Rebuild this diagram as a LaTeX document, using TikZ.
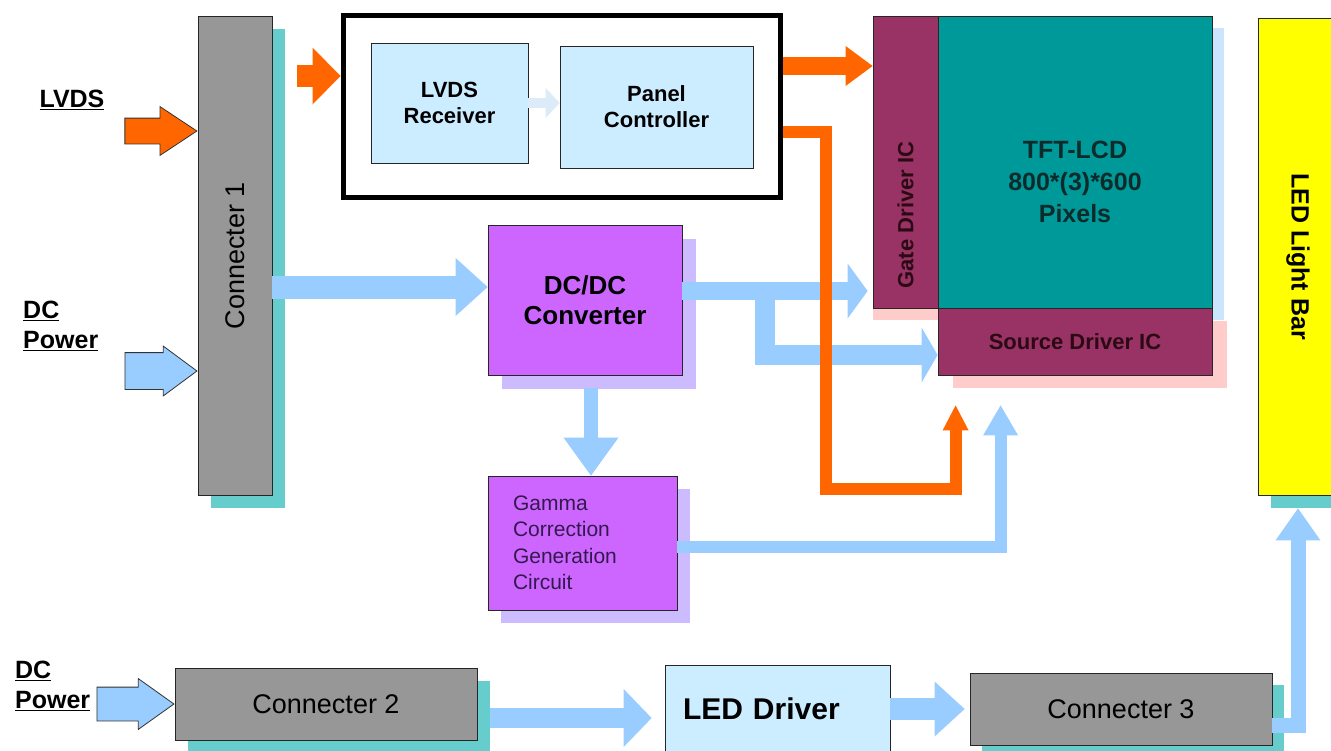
\documentclass[tikz,border=0pt]{standalone}
\usepackage{fontspec}
\setmainfont{Liberation Sans}
\usepackage{xcolor}
\usepackage{tikz}
\usetikzlibrary{shapes,arrows.meta,positioning,calc,shadows}

\definecolor{conngray}{HTML}{979797}
\definecolor{tealshade}{HTML}{66CCCC}
\definecolor{iceblue}{HTML}{CCECFF}
\definecolor{sigorange}{HTML}{FF6600}
\definecolor{pwrblue}{HTML}{99CCFF}
\definecolor{faintblue}{HTML}{DCEBF7}
\definecolor{violetbox}{HTML}{CC66FF}
\definecolor{lavshade}{HTML}{CCBBFF}
\definecolor{icmaroon}{HTML}{993366}
\definecolor{lcdteal}{HTML}{009999}
\definecolor{pinkshade}{HTML}{FFCCCC}
\definecolor{lcdshade}{HTML}{CCE5FF}
\definecolor{barfill}{HTML}{FFFF00}
\definecolor{ictxt}{HTML}{2B0A14}
\definecolor{lcdtxt}{HTML}{0D2B2B}
\definecolor{gammatxt}{HTML}{33194D}

\begin{document}
\begin{tikzpicture}[x=1pt, y=-1pt,
  box/.style={draw=black!85, line width=0.8pt, inner sep=0pt, align=center},
  tshadow/.style={drop shadow={shadow xshift=#1, shadow yshift=-#1, fill=tealshade, opacity=1}},
  lshadow/.style={drop shadow={shadow xshift=#1, shadow yshift=-#1, fill=lavshade, opacity=1}},
  conn/.style={box, fill=conngray, font=\fontsize{27}{32}\selectfont},
  rxbox/.style={box, fill=iceblue, font=\bfseries\fontsize{22}{26}\selectfont},
  purplebox/.style={box, fill=violetbox},
  icbox/.style={box, fill=icmaroon},
  ictext/.style={text=ictxt, font=\bfseries\fontsize{22}{26}\selectfont},
  lcdtext/.style={text=lcdtxt, align=center, font=\bfseries\fontsize{25}{32}\selectfont},
  inlabel/.style={font=\bfseries\fontsize{25}{30}\selectfont, inner sep=0pt, align=left},
  inarrow/.style={single arrow, draw=black!80, line width=0.8pt, inner xsep=0pt, anchor=tip, single arrow tip angle=#1},
  fat/.style 2 args={-{Triangle[length=#1, width=#2, line width=0pt]}},
  sig/.style={draw=sigorange},
  pwr/.style={draw=pwrblue},
]
\useasboundingbox[fill=white] (0,0) rectangle (1331,750);

\node[conn, tshadow=13pt, minimum width=74pt, minimum height=479pt] (conn1) at (235,255.5) {\rotatebox{90}{Connecter 1}};
\node[draw, line width=5pt, minimum width=437pt, minimum height=182pt] (ctrl) at (561.5,106) {};
\node[rxbox, minimum width=157pt, minimum height=120pt] (lvdsrx) at (449.5,103) {LVDS\\Receiver};
\node[rxbox, minimum width=193pt, minimum height=122pt] (panel) at (656.5,107) {Panel\\Controller};
\node[purplebox, lshadow=14pt, minimum width=194pt, minimum height=150pt, font=\bfseries\fontsize{26}{30}\selectfont] (dcdc) at (585,300) {DC/DC\\Converter};
\node[purplebox, lshadow=13pt, minimum width=189pt, minimum height=134pt, text width=139pt, inner xsep=25pt, align=left, text=gammatxt, font=\fontsize{21}{26.5}\selectfont] (gamma) at (582.5,543) {Gamma\\Correction\\Generation\\Circuit};

\node[icbox, minimum width=65pt, minimum height=292pt, drop shadow={shadow xshift=0pt, shadow yshift=-12pt, fill=pinkshade, opacity=1},
  label={[ictext, yshift=-53pt]center:\rotatebox{90}{Gate Driver IC}}] (gate) at (905.5,162) {};
\node[box, fill=lcdteal, minimum width=274pt, minimum height=292pt, drop shadow={shadow xshift=12pt, shadow yshift=-12pt, fill=lcdshade, opacity=1},
  label={[lcdtext, yshift=-20pt]center:{TFT-LCD\\800*(3)*600\\Pixels}}] (lcd) at (1075,162) {};
\node[icbox, ictext, minimum width=274pt, minimum height=67pt, drop shadow={shadow xshift=15pt, shadow yshift=-13pt, fill=pinkshade, opacity=1}] (source) at (1075,341.5) {Source Driver IC};
\node[box, fill=barfill, tshadow=13pt, minimum width=80pt, minimum height=477pt, font=\bfseries\fontsize{25}{30}\selectfont] (bar) at (1298,256.5) {\rotatebox{-90}{LED Light Bar}};

\node[conn, tshadow=13pt, minimum width=302pt, minimum height=72pt] (conn2) at (326,704) {Connecter 2};
\node[box, fill=iceblue, minimum width=225pt, minimum height=87pt, text width=189pt, inner xsep=18pt, align=left, font=\bfseries\fontsize{30}{36}\selectfont] (leddrv) at (777.5,708.5) {LED Driver};
\node[conn, tshadow=12pt, minimum width=302pt, minimum height=72pt] (conn3) at (1121,709) {Connecter 3};

\node[inarrow=67, fill=sigorange, minimum height=72pt, inner ysep=12.5pt, single arrow head extend=11.5pt] (lvdsin) at ([yshift=124.5pt]conn1.west) {};
\node[inarrow=73, fill=pwrblue, minimum height=72pt, inner ysep=18pt, single arrow head extend=6.5pt] (dcin1) at ([yshift=-115.5pt]conn1.west) {};
\node[inarrow=71, fill=pwrblue, minimum height=77pt, inner ysep=16.5pt, single arrow head extend=8.5pt] (dcin2) at (conn2.west) {};

\node[inlabel] (lvdslbl) at (72,100) {\underline{LVDS}};
\node[inlabel, anchor=west] (dclbl1) at (23,326) {\underline{DC}\\\underline{Power}};
\node[inlabel, anchor=west] (dclbl2) at (15,686) {\underline{DC}\\\underline{Power}};

\coordinate (dcin) at ([yshift=13pt]dcdc.west);
\coordinate (dcgate) at ([yshift=9pt]dcdc.east);
\coordinate (gamtip) at ([xshift=63pt,yshift=-30pt]source.south west);
\coordinate (srctip) at ([xshift=18pt,yshift=-30pt]source.south west);
\coordinate (c2out) at ([xshift=13pt,yshift=-14pt]conn2.east);
\coordinate (c3in) at ([xshift=-5pt]conn3.west);

\draw[pwr, line width=10pt, faintblue, fat={14pt}{30pt}] (lvdsrx.east) -- (lvdsrx.east -| panel.west);
\draw[pwr, line width=23pt, fat={32pt}{58pt}] (conn1.east |- dcin) -- (dcin);
\draw[pwr, line width=18pt, fat={20pt}{55pt}] (dcgate) -- ([xshift=-5pt]dcgate -| gate.west);
\draw[pwr, line width=20pt, fat={16pt}{55pt}] ([xshift=83pt]dcgate) |- ([yshift=-13.5pt]source.west);
\draw[pwr, line width=14pt, fat={38pt}{55pt}] ([xshift=6pt,yshift=-13pt]dcdc.south) -- ([xshift=6pt]dcdc.south |- gamma.north);
\draw[pwr, line width=12pt, fat={30pt}{35pt}] ([yshift=-4pt]gamma.east) -| (gamtip);
\draw[pwr, line width=20pt, fat={28pt}{58pt}] (c2out) -- ([xshift=-13pt]c2out -| leddrv.west);
\draw[pwr, line width=22pt, fat={30pt}{55pt}] (leddrv.east |- c3in) -- (c3in);
\draw[pwr, line width=15pt, fat={32pt}{45pt}] ([yshift=-16pt]conn3.east) -| ([yshift=-13pt]bar.south);

\draw[sig, line width=22pt, fat={28pt}{57pt}] ([xshift=25pt,yshift=30pt]conn1.east |- ctrl.west) -- ([yshift=30pt]ctrl.west);
\draw[sig, line width=18pt, fat={27pt}{40pt}] ([yshift=40pt]ctrl.east) -- ([yshift=40pt]ctrl.east -| gate.west);
\draw[sig, line width=12pt, fat={25pt}{26pt}] ([yshift=-26pt]ctrl.east) -| ([xshift=-130pt,yshift=-84pt]srctip) -| (srctip);
\end{tikzpicture}
\end{document}
